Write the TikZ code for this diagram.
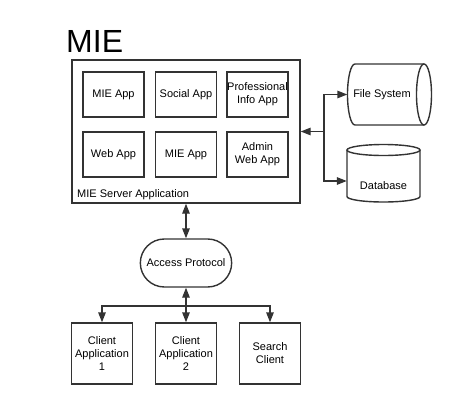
\documentclass[tikz,border=0pt]{standalone}
\usepackage{fontspec}
\setmainfont{Liberation Sans}
\usetikzlibrary{shapes.misc,arrows.meta}

\definecolor{linegray}{HTML}{333333}

\tikzset{
  txt/.style={font=\fontsize{11}{13}\selectfont},
  edge/.style={draw=linegray, line width=1.4pt},
  box/.style={edge, txt, minimum width=61pt, minimum height=45pt, inner sep=0pt, align=center},
  store/.style={txt, inner sep=0pt},
  arr/.style={edge, -{Triangle[length=10pt,width=7.5pt]}},
  dbl/.style={edge, {Triangle[length=10pt,width=7.5pt]}-{Triangle[length=10pt,width=7.5pt]}},
}

\begin{document}
\begin{tikzpicture}[x=1pt,y=-1pt]
  \useasboundingbox (0,0) rectangle (456,408);

  % Draw title
  \node[anchor=base west, inner sep=0pt, font=\fontsize{32}{32}\selectfont] (title) at (66,52) {MIE};

  % Draw server application
  \node[edge, minimum width=228pt, minimum height=143pt] (server) at (186,131.5) {};
  \node[anchor=base west, inner sep=0pt, txt] (srvlabel) at (77,197) {MIE Server Application};

  % Draw apps
  \node[box] (mieapp) at (113.5,94.5) {MIE App};
  \node[box] (social) at (186,94.5) {Social App};
  \node[box] (profinfo) at (257.5,94.5) {Professional\\Info App};
  \node[box] (webapp) at (113.5,154.5) {Web App};
  \node[box] (mieapptwo) at (186,154.5) {MIE App};
  \node[box] (adminweb) at (257.5,154.5) {Admin\\Web App};

  % Draw file system
  \draw[edge] (424,64) -- (355,64) arc[start angle=270, end angle=90, x radius=7.5, y radius=30.5] -- (424,125);
  \draw[edge] (424,94.5) ellipse [x radius=7.5, y radius=30.5];
  \node[store, minimum width=69pt, minimum height=61pt] (fs) at (382,94.5) {File System};

  % Draw database
  \draw[edge] (383.5,150) ellipse [x radius=36.5, y radius=5.5];
  \draw[edge] (347,150) -- (347,196.5) arc[start angle=180, end angle=0, x radius=36.5, y radius=5.5] -- (420,150);
  \node[store, minimum width=73pt, minimum height=40pt, text height=16pt, text depth=0pt] (db) at (383.5,181) {Database};

  % Draw access protocol
  \node[rounded rectangle, edge, txt, minimum width=98pt, minimum height=48pt] (access) at (186,263) {Access Protocol};

  % Draw clients
  \node[box, minimum height=61pt] (client1) at (102,353.5) {Client\\Application\\1};
  \node[box, minimum height=61pt] (client2) at (186,353.5) {Client\\Application\\2};
  \node[box, minimum height=61pt] (search) at (270,353.5) {Search\\Client};

  % Draw connections
  \coordinate (jn) at (324,131.5);
  \coordinate (split) at (186,306);
  \draw[arr] (jn) -- (server.east);
  \draw[arr] (jn) |- (fs.west);
  \draw[arr] (jn) |- (db.west);
  \draw[dbl] (server.south) -- (access.north);
  \draw[dbl] (access.south) -- (client2.north);
  \draw[arr] (split) -| (client1.north);
  \draw[arr] (split) -| (search.north);
\end{tikzpicture}
\end{document}
